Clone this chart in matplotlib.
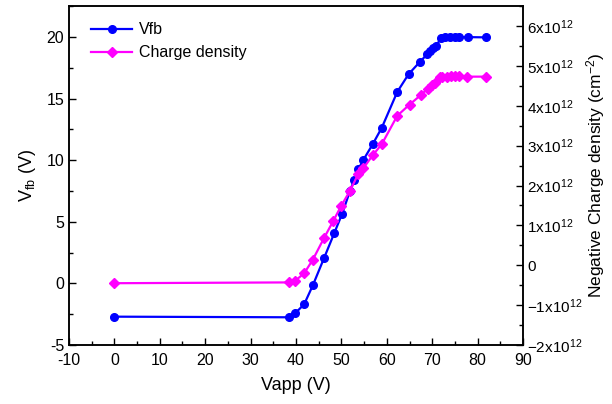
import numpy as np
import matplotlib
matplotlib.use('Agg')
import matplotlib.pyplot as plt
from matplotlib.ticker import MultipleLocator, FuncFormatter

plt.rcParams['font.family'] = ['Liberation Sans', 'DejaVu Sans']
plt.rcParams['mathtext.fontset'] = 'custom'
plt.rcParams['mathtext.rm'] = 'Liberation Sans'
plt.rcParams['mathtext.it'] = 'Liberation Sans:italic'
plt.rcParams['mathtext.bf'] = 'Liberation Sans:bold'
plt.rcParams['axes.unicode_minus'] = False

# Vfb vs applied voltage
vapp_fb = [0, 38.5, 39.8, 41.8, 43.7, 46.2, 48.4, 50.1, 51.9, 52.8, 53.7,
           54.8, 56.9, 58.9, 62.3, 64.8, 67.3, 68.9, 69.5, 70.2, 70.9, 71.9,
           72.9, 73.9, 74.9, 75.8, 77.8, 81.9]
vfb = [-2.7, -2.75, -2.43, -1.69, -0.16, 2.08, 4.06, 5.6, 7.51, 8.38, 9.25,
       10.0, 11.3, 12.64, 15.54, 16.98, 17.98, 18.6, 18.87, 19.13, 19.25,
       19.94, 19.95, 19.96, 19.97, 19.98, 19.98, 19.96]

# negative charge density, in units of 1e12 cm^-2
vapp_q = [0, 38.5, 39.8, 41.8, 43.7, 46.2, 48.2, 49.9, 51.9, 53.7, 54.8,
          56.9, 58.9, 62.3, 65.0, 67.5, 69.0, 69.9, 70.6, 71.6, 72.1, 73.2,
          74.1, 75.0, 75.9, 77.7, 81.8]
charge_1e12 = [-0.45, -0.43, -0.39, -0.20, 0.14, 0.69, 1.11, 1.48, 1.87,
               2.29, 2.43, 2.76, 3.04, 3.75, 4.03, 4.27, 4.43, 4.52, 4.57,
               4.72, 4.73, 4.73, 4.74, 4.74, 4.74, 4.73, 4.73]

BLUE = '#0000FF'
MAGENTA = '#FF00FF'


def sci_label(val, pos):
    n = int(round(val / 1e12))
    if n == 0:
        return '0'
    return r'$%d\mathrm{x}10^{12}$' % n


fig = plt.figure(figsize=(6.12, 4.04), dpi=100)
ax = fig.add_axes([0.1127, 0.146, 0.742, 0.839])
ax2 = ax.twinx()

l1, = ax.plot(vapp_fb, vfb, '-o', color=BLUE, lw=1.6, ms=5.5,
              label='Vfb')
l2, = ax2.plot(vapp_q, np.array(charge_1e12) * 1e12, '-D', color=MAGENTA,
               lw=1.6, ms=5, label='Charge density')

ax.set_xlim(-10, 90)
ax.set_ylim(-5, 22.5)
ax2.set_ylim(-2e12, 6.5e12)

ax.xaxis.set_major_locator(MultipleLocator(10))
ax.xaxis.set_minor_locator(MultipleLocator(5))
ax.yaxis.set_major_locator(MultipleLocator(5))
ax.yaxis.set_minor_locator(MultipleLocator(2.5))
ax2.yaxis.set_major_locator(MultipleLocator(1e12))
ax2.yaxis.set_minor_locator(MultipleLocator(0.5e12))
ax2.yaxis.set_major_formatter(FuncFormatter(sci_label))

for a in (ax, ax2):
    a.tick_params(which='both', direction='in', labelsize=11.5)
    a.tick_params(which='major', length=5, width=1)
    a.tick_params(which='minor', length=3, width=1)
    for s in a.spines.values():
        s.set_linewidth(1.1)
ax.tick_params(axis='both', which='both', top=False, right=False)
ax.tick_params(axis='x', which='major', pad=6)
ax2.tick_params(axis='y', which='both', left=False, right=True, pad=3,
                labelsize=11)

ax.set_xlabel('Vapp (V)', fontsize=13, labelpad=6)
ax.set_ylabel(r'V$_{\mathrm{fb}}$ (V)', fontsize=13, labelpad=6)
ax2.set_ylabel(r'Negative Charge density (cm$^{\mathrm{-2}}$)', fontsize=12.5,
               labelpad=1)

leg = ax2.legend(handles=[l1, l2], loc='upper left', frameon=False,
                 fontsize=11.5, handlelength=2.6, handletextpad=0.4,
                 borderaxespad=0.4, labelspacing=0.5,
                 bbox_to_anchor=(0.02, 0.99))

fig.savefig('out.png', dpi=100)
